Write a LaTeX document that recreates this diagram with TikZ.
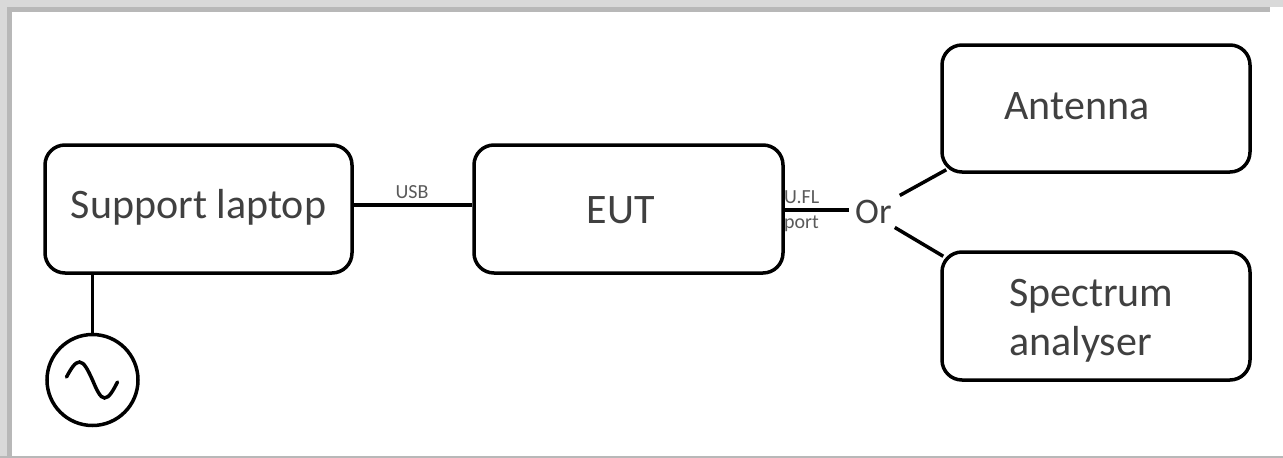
\documentclass[tikz,border=0pt]{standalone}
\usepackage{fontspec}
\setmainfont{Carlito}
\definecolor{txtgray}{HTML}{404040}
\definecolor{smallgray}{HTML}{5A5A5A}
\definecolor{bandlight}{HTML}{D9D9D9}
\definecolor{banddark}{HTML}{B8B8B8}
\begin{document}
\begin{tikzpicture}[x=1pt,y=-1pt,
  box/.style={draw=black,line width=3.5pt,rounded corners=20pt,rectangle,inner sep=0pt},
  big/.style={text=txtgray,inner sep=0pt,font=\fontsize{42}{49}\selectfont},
  small/.style={text=smallgray,inner sep=0pt,font=\fontsize{20}{24}\selectfont},
  wire/.style={draw=black,line width=3.5pt}]
\useasboundingbox (0,0) rectangle (1283,458);
% frame shadow
\fill[bandlight] (0,0) rectangle (1283,7);
\fill[banddark] (7,7) rectangle (1270,12);
\fill[bandlight] (0,0) rectangle (7,458);
\fill[banddark] (7,7) rectangle (12,458);
\fill[banddark] (0,455.5) rectangle (1283,458);
% boxes
\node[box,minimum width=307pt,minimum height=128pt] (laptop) at (198.5,209) {};
\node[box,minimum width=309pt,minimum height=128pt] (eut) at (628.5,209) {};
\node[box,minimum width=308pt,minimum height=127pt] (ant) at (1096,108.5) {};
\node[box,minimum width=308pt,minimum height=128pt] (spec) at (1096,316) {};
% texts
\node[big,anchor=base] (tlaptop) at (198.5,218) {Support laptop};
\node[big,anchor=base] (teut) at (620.5,223) {EUT};
\node[big,anchor=base] (tant) at (1077,119) {Antenna};
\node[big,anchor=base west,align=left] (tspec) at (1009,355) {Spectrum\\analyser};
\node[small,anchor=base] (usb) at (412,198) {USB};
\node[small,anchor=base west] (ufl) at (784,203) {U.FL};
\node[small,anchor=base west] (port) at (784,228) {port};
\node[text=txtgray,inner sep=0pt,font=\fontsize{36}{40}\selectfont,anchor=base west] (or) at (855,223) {Or};
% connectors
\draw[wire] ([yshift=4pt]laptop.east) -- ([yshift=4pt]eut.west);
\draw[wire] ([yshift=-1pt]eut.east) -- ([xshift=-6pt,yshift=-1pt]or.west |- eut.east);
\draw[wire] ([shift={(8pt,4pt)}]or.north east) -- ([shift={(6pt,4pt)}]ant.south west);
\draw[wire] ([shift={(3pt,-4pt)}]or.south east) -- ([shift={(3pt,-6pt)}]spec.north west);
% AC source
\node[draw=black,line width=3.5pt,circle,minimum size=91pt,inner sep=0pt] (ac) at (92.5,380) {};
\draw[wire] (laptop.south -| ac.north) -- (ac.north);
\draw[line width=3.5pt,line cap=round] ([shift={(-26pt,3pt)}]ac.center) sin ([shift={(-13pt,18pt)}]ac.center) cos (ac.center) sin ([shift={(12pt,-18pt)}]ac.center) cos ([shift={(25pt,-2pt)}]ac.center);
\end{tikzpicture}
\end{document}
